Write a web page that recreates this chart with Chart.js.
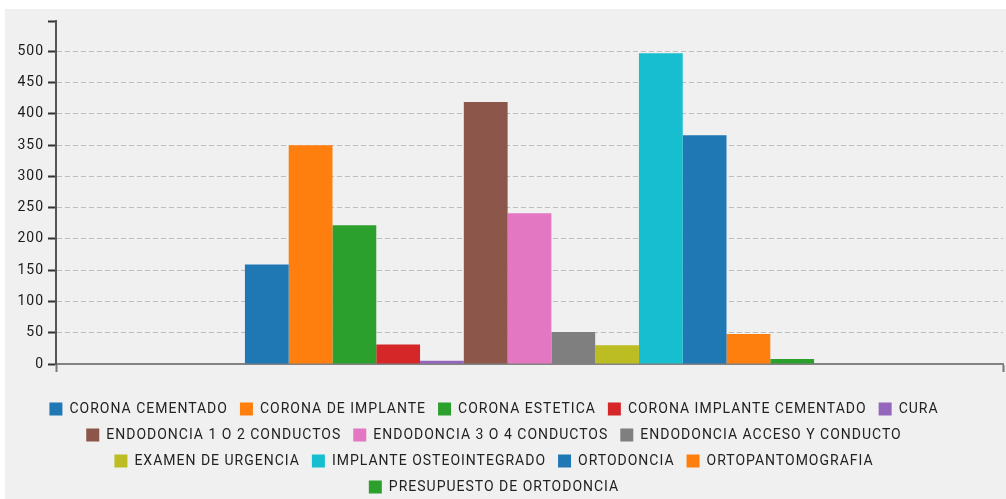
<!DOCTYPE html>
<html>
<head>
<meta charset="utf-8">
<script src="https://cdn.jsdelivr.net/npm/chart.js@4"></script>
<style>
html,body{margin:0;padding:0;background:#fff;overflow:hidden;width:1006px;height:499px;}
#panel{position:absolute;left:5px;top:9px;width:1001px;height:490px;background:#f0f0f0;}
#wrap{position:absolute;left:-15px;top:9px;width:1021px;height:495px;}
</style>
</head>
<body>
<div id="panel"></div>
<div id="wrap"><canvas id="c" width="1021" height="495"></canvas></div>
<script>
const categories = [''];
const seriesNames = [
  'CORONA CEMENTADO', 'CORONA DE IMPLANTE', 'CORONA ESTETICA', 'CORONA IMPLANTE CEMENTADO', 'CURA',
  'ENDODONCIA 1 O 2 CONDUCTOS', 'ENDODONCIA 3 O 4 CONDUCTOS', 'ENDODONCIA ACCESO Y CONDUCTO',
  'EXAMEN DE URGENCIA', 'IMPLANTE OSTEOINTEGRADO', 'ORTODONCIA', 'ORTOPANTOMOGRAFIA',
  'PRESUPUESTO DE ORTODONCIA'
];
const seriesValues = [159, 350, 222, 31, 5, 419, 241, 51, 30, 497, 366, 48, 8];
const seriesColors = [
  '#1f77b4', '#ff7f0e', '#2ca02c', '#d62728', '#9467bd', '#8c564b', '#e377c2',
  '#7f7f7f', '#bcbd22', '#17becf', '#1f77b4', '#ff7f0e', '#2ca02c'
];
const yTicks = [0, 50, 100, 150, 200, 250, 300, 350, 400, 450, 500];
const yMax = 548;

Chart.defaults.font.family = 'Roboto';

const spacing = {
  id: 'spacing',
  beforeUpdate(c) { c.ctx.letterSpacing = '1px'; },
  beforeLayout(c) { c.ctx.letterSpacing = '1px'; },
  beforeDraw(c) { c.ctx.letterSpacing = '1px'; }
};

const datasets = seriesNames.map((name, i) => ({
  label: name,
  data: [seriesValues[i]],
  backgroundColor: seriesColors[i],
  borderWidth: 0,
  categoryPercentage: 0.601,
  barPercentage: 1
}));

new Chart(document.getElementById('c'), {
  type: 'bar',
  data: { labels: categories, datasets },
  plugins: [spacing],
  options: {
    responsive: false,
    animation: false,
    layout: { padding: { top: 12, right: 3, left: 0, bottom: 0 } },
    plugins: {
      legend: {
        position: 'bottom',
        labels: { boxWidth: 13, boxHeight: 13, padding: 12, color: '#222', font: { size: 14 } }
      },
      tooltip: { enabled: false }
    },
    scales: {
      x: {
        type: 'category',
        offset: true,
        z: 1,
        grid: { display: true, drawOnChartArea: false, drawTicks: true, tickLength: 8, tickColor: '#777', tickWidth: 2, offset: true },
        border: { display: true, color: 'rgba(110,110,110,0.85)', width: 2 },
        ticks: { display: false },
        afterFit(s) { s.height = 26; }
      },
      y: {
        min: 0,
        max: yMax,
        afterBuildTicks(s) {
          s.ticks = yTicks.map(v => ({ value: v })).concat([{ value: yMax }]);
        },
        ticks: {
          padding: 4,
          color: '#1a1a1a',
          font: { size: 14 },
          callback: (v) => (yTicks.includes(v) ? String(v) : '')
        },
        grid: {
          color: (ctx) => (ctx.tick && ctx.tick.value > 0 && yTicks.includes(ctx.tick.value)) ? '#bdbdbd' : 'rgba(0,0,0,0)',
          lineWidth: 1,
          drawTicks: true,
          tickLength: 8,
          tickColor: '#333',
          tickWidth: 2
        },
        border: { display: true, color: '#555', width: 2, dash: [5, 3] },
        afterFit(s) { s.width = 71; }
      }
    }
  }
});
</script>
</body>
</html>
